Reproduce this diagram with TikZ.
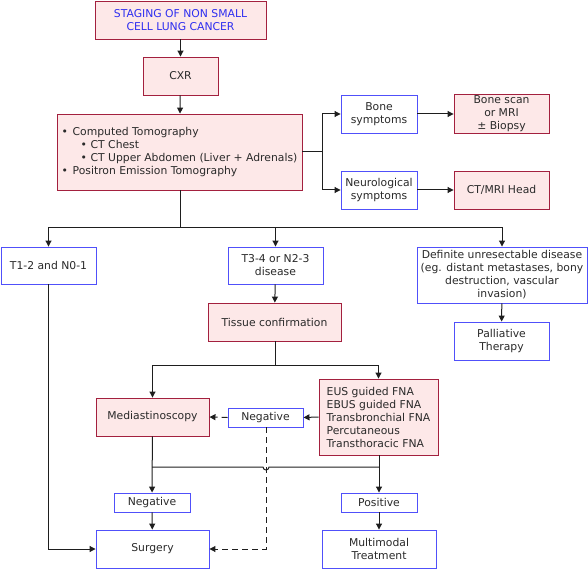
\documentclass[tikz,border=0pt]{standalone}
\usepackage{fontspec}
\setmainfont{DejaVu Sans}
\usetikzlibrary{arrows.meta}
\definecolor{pinkfill}{HTML}{FDE8E8}
\definecolor{redline}{HTML}{A3203E}
\definecolor{blueline}{HTML}{5050FA}
\definecolor{titleblue}{HTML}{2E2EF0}
\definecolor{txt}{HTML}{2A2A2A}
\definecolor{conn}{HTML}{1E1E1E}
\begin{document}
\begin{tikzpicture}[x=1pt,y=-1pt,
  every node/.style={font=\fontsize{10.8}{13}\selectfont, text=txt, inner sep=1pt, align=center},
  pinkbox/.style={draw=redline, fill=pinkfill, line width=0.9pt, minimum width=#1, rectangle},
  bluebox/.style={draw=blueline, fill=white, line width=0.9pt, minimum width=#1, rectangle},
  conline/.style={draw=conn, line width=1pt},
  arr/.style={conline, -{Triangle[length=6pt,width=6pt]}},
  dashline/.style={conline, dash pattern=on 6pt off 4pt}
]
\useasboundingbox (0,0) rectangle (588,569);

\node[pinkbox=171pt, minimum height=38pt, text=titleblue] (title) at (180.5,20) {STAGING OF NON SMALL\\CELL LUNG CANCER};
\node[pinkbox=75pt, minimum height=38pt] (cxr) at (180.5,76) {CXR};
\node[pinkbox=245pt, minimum height=76pt, align=left] (ct) at (179.5,152) {%
\makebox[11pt][l]{\textbullet}Computed Tomography\\
\hspace{19pt}\makebox[10pt][l]{\textbullet}CT Chest\\
\hspace{19pt}\makebox[10pt][l]{\textbullet}CT Upper Abdomen (Liver + Adrenals)\\
\makebox[11pt][l]{\textbullet}Positron Emission Tomography};
\node[bluebox=76pt, minimum height=38pt] (bone) at (379,114) {Bone\\symptoms};
\node[pinkbox=95pt, minimum height=38pt] (bonescan) at (501.5,114) {Bone scan\\or MRI\\± Biopsy};
\node[bluebox=76pt, minimum height=38pt] (neuro) at (379,190) {Neurological\\symptoms};
\node[pinkbox=95pt, minimum height=38pt] (head) at (501.5,190) {CT/MRI Head};

\node[bluebox=95pt, minimum height=37pt] (t12) at (48.5,265.5) {T1-2 and N0-1};
\node[bluebox=95pt, minimum height=37pt] (t34) at (275.5,265.5) {T3-4 or N2-3\\disease};
\node[bluebox=170pt, minimum height=56pt] (def) at (502,275) {Definite unresectable disease\\(eg. distant metastases, bony\\destruction, vascular\\invasion)};
\node[pinkbox=133pt, minimum height=38pt] (tissue) at (274.5,322) {Tissue confirmation};
\node[bluebox=95pt, minimum height=38pt] (pall) at (501.5,341) {Palliative\\Therapy};

\node[pinkbox=113pt, minimum height=38pt] (medi) at (152.5,417) {Mediastinoscopy};
\node[pinkbox=119pt, minimum height=76pt, align=left] (eus) at (378.5,417) {EUS guided FNA\\EBUS guided FNA\\Transbronchial FNA\\Percutaneous\\Transthoracic FNA};
\node[bluebox=75pt, minimum height=19pt] (neg1) at (265.5,417.5) {Negative};
\node[bluebox=76pt, minimum height=19pt] (neg2) at (152,502.5) {Negative};
\node[bluebox=76pt, minimum height=19pt] (pos) at (379,502.5) {Positive};
\node[bluebox=113pt, minimum height=38pt] (surg) at (152.5,549) {Surgery};
\node[bluebox=114pt, minimum height=38pt] (multi) at (379,549) {Multimodal\\Treatment};

% top chain
\draw[arr] (title) -- (cxr);
\draw[arr] (cxr) -- (ct);
% symptoms bracket
\coordinate (brk) at (322,152);
\draw[conline] (ct.east |- brk) -- (brk);
\draw[arr] (brk) |- (bone.west);
\draw[arr] (brk) |- (neuro.west);
\draw[arr] (bone) -- (bonescan);
\draw[arr] (neuro) -- (head);
% split
\coordinate (split) at (180,227);
\draw[conline] (ct.south -| split) -- (split);
\draw[conline] (t12.north |- split) -- (def.north |- split);
\draw[arr] (t12.north |- split) -- (t12.north);
\draw[arr] (t34.north |- split) -- (t34.north);
\draw[arr] (def.north |- split) -- (def.north);
\draw[arr] (t34) -- (tissue);
\draw[arr] (def) -- (pall);
% tissue split
\coordinate (tsplit) at (275,365);
\draw[conline] (tissue.south -| tsplit) -- (tsplit);
\draw[conline] (medi.north |- tsplit) -- (eus.north |- tsplit);
\draw[arr] (medi.north |- tsplit) -- (medi.north);
\draw[arr] (eus.north |- tsplit) -- (eus.north);
% negatives
\draw[arr] (eus.west) -- (neg1.east);
\draw[dashline, -{Triangle[length=6pt,width=6pt]}] (neg1.west) -- (medi.east);
\coordinate (dcorner) at (266,549);
\draw[dashline, -{Triangle[length=6pt,width=6pt]}] (neg1.south -| dcorner) -- (dcorner) -- (surg.east);
% lower
\draw[arr] (medi) -- (neg2);
\draw[arr] (eus.south -| pos) -- (pos.north);
\coordinate (hl) at (152,467);
\coordinate (hr) at (379,467);
\draw[conline] (hl) -- (263,467) arc[start angle=180, end angle=0, radius=3] -- (hr);
\draw[arr] (neg2) -- (surg);
\draw[arr] (pos) -- (multi);
\coordinate (lcorner) at (48,549);
\draw[arr] (t12.south -| lcorner) -- (lcorner) -- (surg.west);
\end{tikzpicture}
\end{document}
